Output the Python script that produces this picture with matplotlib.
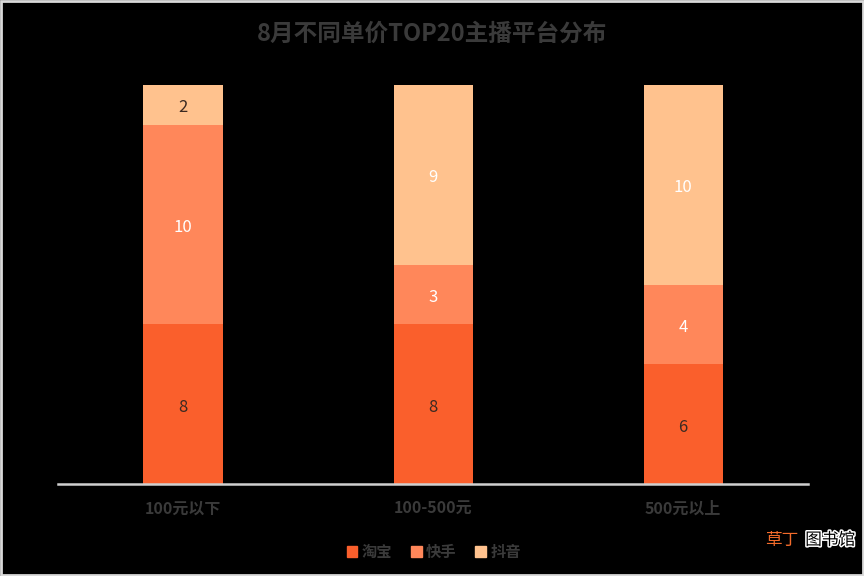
import matplotlib
matplotlib.use("Agg")
import matplotlib.pyplot as plt
import matplotlib.patches as mpatches
import matplotlib.patheffects as pe
import numpy as np

plt.rcParams["font.family"] = ["Noto Sans CJK SC", "DejaVu Sans"]

# ---- Data ----
categories = ["100元以下", "100-500元", "500元以上"]
series_names = ["淘宝", "快手", "抖音"]
taobao = [8, 8, 6]
kuaishou = [10, 3, 4]
douyin = [2, 9, 10]
series_vals = [taobao, kuaishou, douyin]

colors = ["#FA5F2C", "#FF875A", "#FFC28E"]
label_colors = [["#3b2a22", "#3b2a22", "#3b2a22"],
                ["white", "white", "white"],
                ["#3b2a22", "white", "white"]]

fig = plt.figure(figsize=(8.64, 5.76), dpi=100, facecolor="black")
ax = fig.add_axes([0.0671, 0.1597, 0.8683, 0.6927])
ax.set_facecolor("black")

x = np.arange(len(categories))
bar_w = 0.316
bottom = np.zeros(len(categories))
for i, vals in enumerate(series_vals):
    vals = np.array(vals, dtype=float)
    ax.bar(x, vals, bottom=bottom, width=bar_w, color=colors[i],
           edgecolor="none", zorder=3)
    for j, v in enumerate(vals):
        # slight downward nudge so the digits sit like the original
        ax.text(x[j], bottom[j] + v / 2 - 0.15, f"{int(v)}", ha="center",
                va="center", fontsize=12, color=label_colors[i][j], zorder=4)
    bottom += vals

ax.set_xlim(-0.5, 2.5)
ax.set_ylim(0, 20)
ax.set_yticks([])
ax.set_xticks(x)
ax.set_xticklabels(categories, fontsize=11.5, color="#3a3a3a", fontweight="bold")
ax.tick_params(axis="x", length=0, pad=12)
for s in ["top", "right", "left"]:
    ax.spines[s].set_visible(False)
ax.spines["bottom"].set_color("#d0d0d0")
ax.spines["bottom"].set_linewidth(1.8)
ax.spines["bottom"].set_zorder(5)

fig.text(0.5, 0.942, "8月不同单价TOP20主播平台分布", ha="center", va="center",
         fontsize=17, fontweight="bold", color="#3a3a3a")

handles = [mpatches.Patch(color=colors[i], label=series_names[i]) for i in range(3)]
leg = fig.legend(handles=handles, loc="center", bbox_to_anchor=(0.502, 0.042),
                 ncol=3, frameon=False, handlelength=0.7,
                 handleheight=0.7, handletextpad=0.3, columnspacing=1.2,
                 prop={"weight": "bold", "size": 11})
for t in leg.get_texts():
    t.set_color("#3a3a3a")

# watermark
fig.text(0.885, 0.062, "草丁", ha="left", va="center", fontsize=12,
         color="#F26B2B")
fig.text(0.932, 0.062, "图书馆", ha="left", va="center", fontsize=12,
         color="black",
         path_effects=[pe.withStroke(linewidth=2.2, foreground="white")])

# light frame around the image
fig.patches.append(mpatches.Rectangle((0.001, 0.001), 0.998, 0.998,
                                      transform=fig.transFigure, fill=False,
                                      edgecolor="#d9d9d9", linewidth=2))

fig.savefig("out.png", dpi=100, facecolor="black")
